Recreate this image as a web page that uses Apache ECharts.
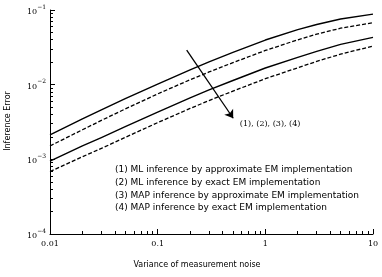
<!DOCTYPE html>
<html><head><meta charset="utf-8">
<script src="https://cdn.jsdelivr.net/npm/echarts@6/dist/echarts.min.js"></script>
<style>html,body{margin:0;padding:0;background:#fff}#c{width:382px;height:277px}</style>
</head><body><div id="c"></div>
<script>
// ---- data ----
const noiseVariance = [0.01, 0.02, 0.03, 0.05, 0.1, 0.2, 0.3, 0.5, 1, 2, 3, 5, 10];
const mlApprox  = [2.12e-3, 3.47e-3, 4.58e-3, 6.49e-3, 1.02e-2, 1.58e-2, 2.02e-2, 2.70e-2, 3.96e-2, 5.45e-2, 6.40e-2, 7.57e-2, 8.81e-2];
const mlExact   = [1.51e-3, 2.49e-3, 3.32e-3, 4.73e-3, 7.52e-3, 1.164e-2, 1.479e-2, 1.972e-2, 2.87e-2, 3.99e-2, 4.74e-2, 5.70e-2, 6.75e-2];
const mapApprox = [9.46e-4, 1.514e-3, 1.954e-3, 2.735e-3, 4.30e-3, 6.65e-3, 8.49e-3, 1.138e-2, 1.671e-2, 2.32e-2, 2.79e-2, 3.46e-2, 4.30e-2];
const mapExact  = [6.85e-4, 1.084e-3, 1.40e-3, 1.968e-3, 3.10e-3, 4.80e-3, 6.12e-3, 8.20e-3, 1.202e-2, 1.683e-2, 2.05e-2, 2.56e-2, 3.29e-2];
const seriesNames = [
  '(1) ML inference by approximate EM implementation',
  '(2) ML inference by exact EM implementation',
  '(3) MAP inference by approximate EM implementation',
  '(4) MAP inference by exact EM implementation'
];
const xTicks = [0.01, 0.1, 1, 10];
const yTicks = [1e-4, 1e-3, 1e-2, 1e-1];
const xMinor = [0.02,0.03,0.04,0.05,0.06,0.07,0.08,0.09,0.2,0.3,0.4,0.5,0.6,0.7,0.8,0.9,2,3,4,5,6,7,8,9];
const yMinor = [2e-4,3e-4,4e-4,5e-4,6e-4,7e-4,8e-4,9e-4,2e-3,3e-3,4e-3,5e-3,6e-3,7e-3,8e-3,9e-3,2e-2,3e-2,4e-2,5e-2,6e-2,7e-2,8e-2,9e-2];
const arrowFrom = [0.186, 0.0291];
const arrowTo = [0.503, 0.00355];
const arrowLabelAt = [0.58, 0.00297];
const arrowLabel = '(1), (2), (3), (4)';
const xTitle = 'Variance of measurement noise';
const yTitle = 'Inference Error';

// ---- chart ----
const chart = echarts.init(document.getElementById('c'), null, {renderer: 'canvas'});
const black = '#000';
const serif = 'DejaVu Serif';
function mkSeries(data, dashed, i) {
  return {
    type: 'line', name: seriesNames[i], xAxisIndex: 0, yAxisIndex: 0,
    data: noiseVariance.map((x, k) => [x, data[k]]),
    symbol: 'none', smooth: false,
    lineStyle: {color: black, width: dashed ? 1.3 : 1.4, type: dashed ? [4, 2] : 'solid', join: 'round'},
    animation: false, silent: true
  };
}
const series = [
  mkSeries(mlApprox, false, 0),
  mkSeries(mlExact, true, 1),
  mkSeries(mapApprox, false, 2),
  mkSeries(mapExact, true, 3)
];
series[0].markLine = {
  silent: true, animation: false,
  symbol: ['none', 'arrow'], symbolSize: 8,
  lineStyle: {color: black, width: 1.3, type: 'solid'},
  label: {show: false},
  data: [[{coord: arrowFrom}, {coord: arrowTo}]]
};
const axisBase = {
  type: 'log', logBase: 10, gridIndex: 0,
  splitLine: {show: false}, minorTick: {show: false}, minorSplitLine: {show: false}
};
const option = {
  animation: false,
  backgroundColor: '#fff',
  grid: {left: 50, right: 9, top: 10, bottom: 43, containLabel: false},
  xAxis: [
    Object.assign({}, axisBase, {
      min: 0.01, max: 10, position: 'bottom',
      axisLine: {show: true, lineStyle: {color: black, width: 1}},
      axisTick: {show: true, inside: true, length: 5, lineStyle: {color: black}, customValues: xTicks},
      axisLabel: {show: true, margin: 6, color: black, fontFamily: serif, fontSize: 8,
        customValues: xTicks, formatter: v => String(+v.toPrecision(3))}
    }),
    Object.assign({}, axisBase, {
      min: 0.01, max: 10, position: 'bottom',
      axisLine: {show: false},
      axisTick: {show: true, inside: true, length: 3, lineStyle: {color: black}, customValues: xMinor},
      axisLabel: {show: false}
    })
  ],
  yAxis: [
    Object.assign({}, axisBase, {
      min: 1e-4, max: 0.1, position: 'left',
      axisLine: {show: true, lineStyle: {color: black, width: 1}},
      axisTick: {show: true, inside: true, length: 5, lineStyle: {color: black}, customValues: yTicks},
      axisLabel: {show: true, margin: 4, color: black,
        customValues: yTicks,
        formatter: v => '{b|10}{s|\u2212' + Math.abs(Math.round(Math.log10(v))) + '}',
        rich: {
          b: {fontFamily: serif, fontSize: 8, color: black, lineHeight: 12, verticalAlign: 'bottom'},
          s: {fontFamily: serif, fontSize: 6, color: black, lineHeight: 12, verticalAlign: 'top'}
        }}
    }),
    Object.assign({}, axisBase, {
      min: 1e-4, max: 0.1, position: 'left',
      axisLine: {show: false},
      axisTick: {show: true, inside: true, length: 3, lineStyle: {color: black}, customValues: yMinor},
      axisLabel: {show: false}
    })
  ],
  series: series
};
chart.setOption(option);

const lp = chart.convertToPixel({gridIndex: 0}, arrowLabelAt);
const graphics = [
  {type: 'text', x: 197, y: 265, style: {text: xTitle, fill: black, font: '8px "DejaVu Sans"', align: 'center', verticalAlign: 'middle'}},
  {type: 'text', x: 8, y: 121, rotation: Math.PI / 2, style: {text: yTitle, fill: black, font: '8px "DejaVu Sans"', align: 'center', verticalAlign: 'middle'}},
  {type: 'text', x: lp[0], y: lp[1], style: {text: arrowLabel, fill: black, font: '8px "DejaVu Serif"', align: 'left', verticalAlign: 'middle'}}
];
seriesNames.forEach((n, i) => {
  graphics.push({type: 'text', x: 115, y: 170 + i * 12.6, style: {text: n, fill: black, font: '9px "DejaVu Sans"', align: 'left', verticalAlign: 'middle'}});
});
chart.setOption({graphic: graphics});
</script>
</body></html>
